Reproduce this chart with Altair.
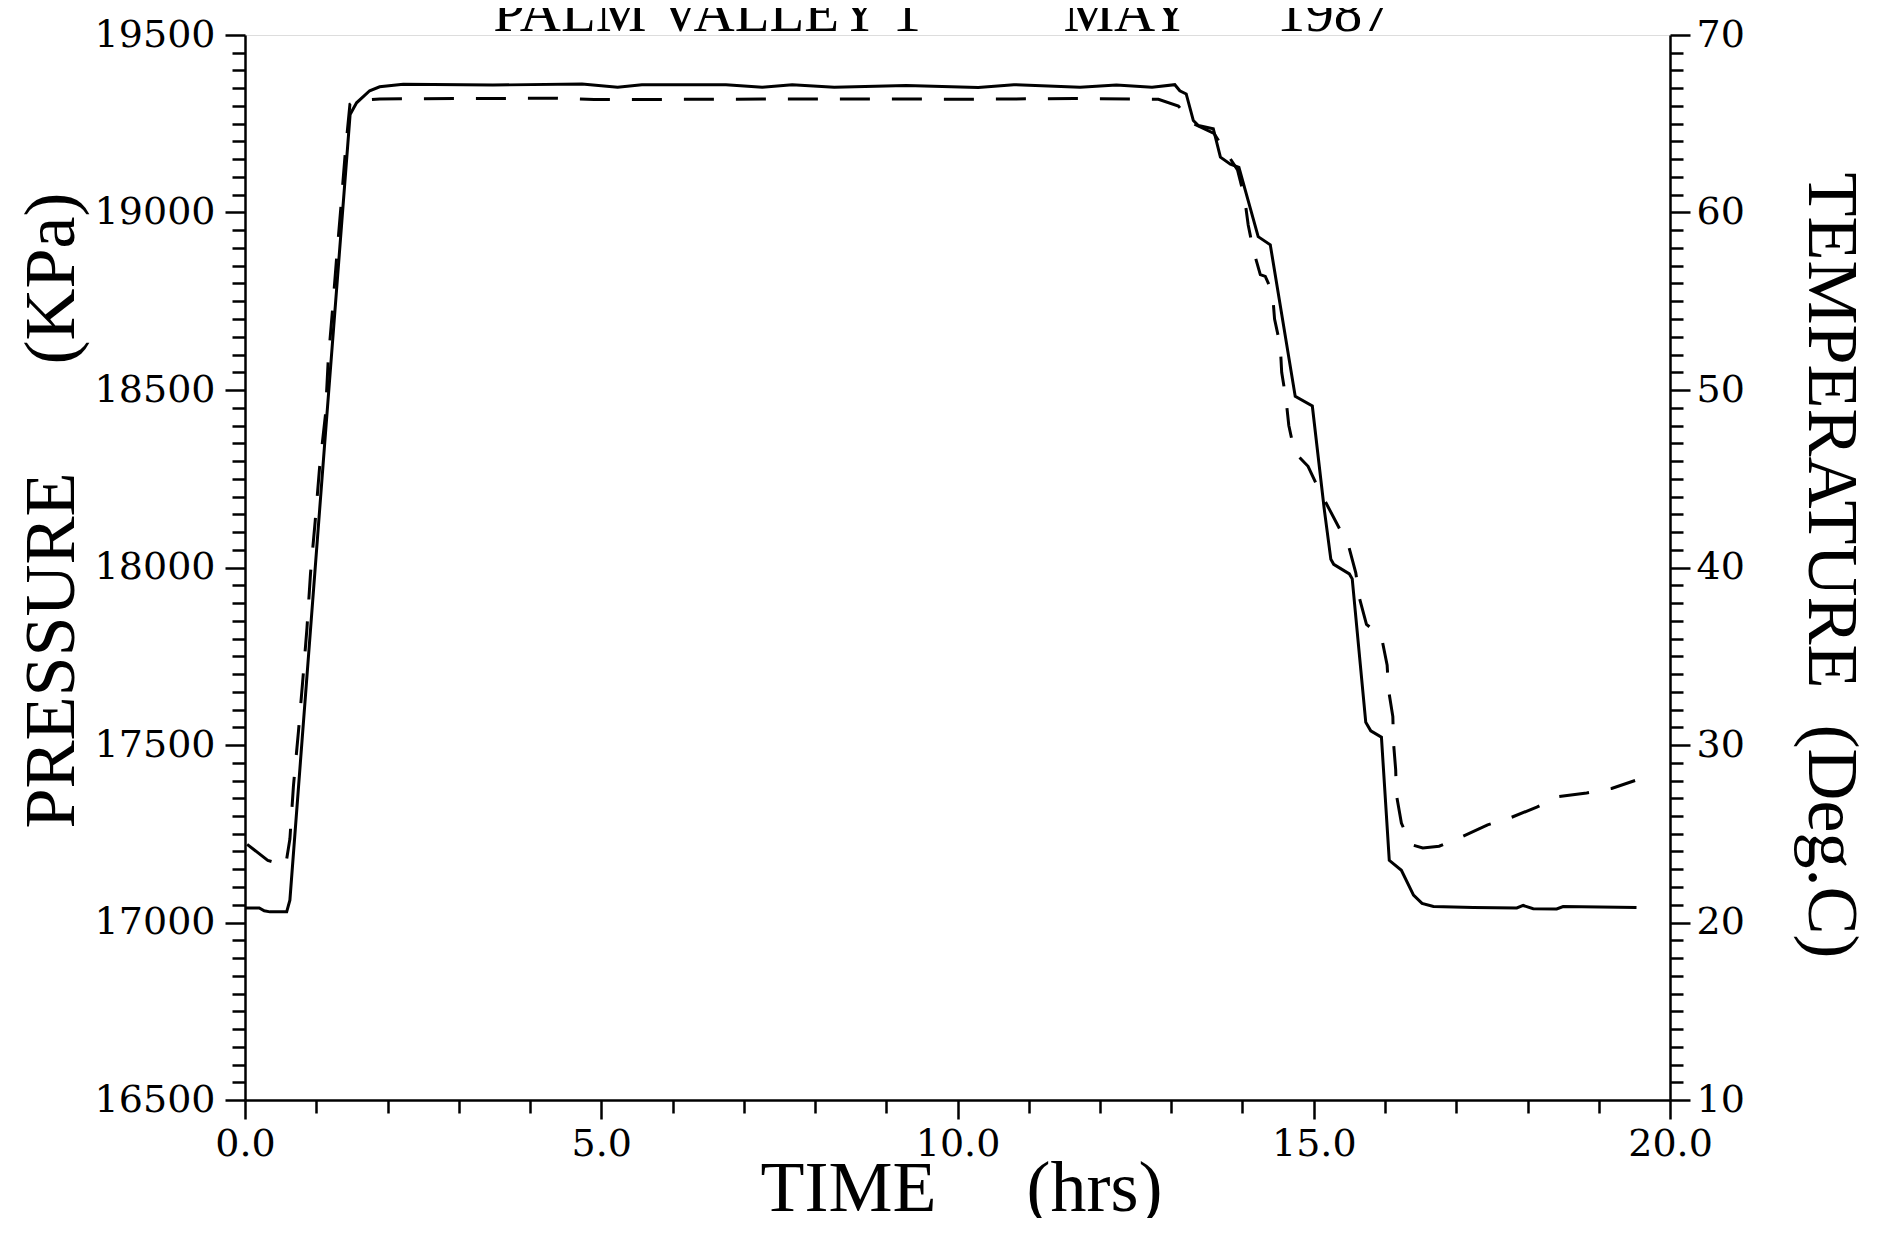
import altair as alt
import pandas as pd

# ---- data (time in hours) ----
time_p = [0.00, 0.20, 0.27, 0.35, 0.585, 0.63, 1.113, 1.475, 1.566, 1.75, 1.89, 2.22,
          3.48, 4.73, 5.23, 5.57, 6.75, 7.26, 7.68, 8.27, 9.28, 10.29, 10.79, 11.72,
          12.23, 12.73, 13.05, 13.12, 13.21, 13.31, 13.38, 13.59, 13.69, 13.83, 13.95,
          14.22, 14.39, 14.74, 14.98, 15.15, 15.24, 15.28, 15.50, 15.54, 15.73, 15.80,
          15.95, 16.06, 16.23, 16.40, 16.52, 16.68, 17.24, 17.85, 17.94, 18.08, 18.41,
          18.50, 19.53]
pressure = [17041, 17041, 17033, 17030, 17030, 17063, 18335, 19276, 19309, 19343, 19354, 19361,
            19359, 19362, 19353, 19360, 19360, 19353, 19360, 19353, 19358, 19352, 19360, 19353,
            19359, 19353, 19360, 19343, 19334, 19259, 19245, 19236, 19156, 19136, 19127,
            18932, 18909, 18482, 18455, 18160, 18023, 18009, 17982, 17968, 17564, 17540,
            17522, 17175, 17147, 17077, 17054, 17045, 17042, 17041, 17048, 17039, 17038,
            17045, 17042]

time_t = [0.03, 0.32, 0.57, 0.63, 0.68, 0.75, 0.81, 0.87, 0.92, 0.985, 1.046, 1.129,
          1.167, 1.228, 1.289, 1.35, 1.411, 1.473, 1.565, 1.89, 4.39, 4.90, 7.26, 8.61,
          10.12, 11.64, 12.82, 13.10, 13.31, 13.60, 13.93, 14.03, 14.08, 14.15, 14.25,
          14.32, 14.42, 14.45, 14.53, 14.55, 14.61, 14.65, 14.73, 14.92, 15.06, 15.49,
          15.59, 15.64, 15.74, 15.95, 16.03, 16.05, 16.11, 16.12, 16.15, 16.16, 16.23,
          16.36, 16.53, 16.76, 17.06, 17.44, 17.76, 18.13, 18.44, 18.83, 19.18, 19.51]
temperature = [24.4, 23.5, 23.2, 24.7, 27.7, 30.75, 33.6, 36.6, 39.7, 42.6, 45.6, 48.6,
               51.6, 54.5, 57.6, 60.5, 63.55, 66.1, 66.3, 66.4, 66.44, 66.36, 66.39, 66.40,
               66.38, 66.42, 66.38, 66.0, 65.0, 64.45, 62.4, 60.8, 59.3, 57.9, 56.5,
               56.4, 55.5, 54.0, 52.5, 51.0, 49.5, 48.0, 46.5, 45.7, 44.5, 41.2,
               39.7, 38.3, 36.8, 36.1, 34.5, 33.1, 31.6, 30.1, 28.6, 27.2, 25.6,
               24.4, 24.2, 24.3, 24.8, 25.5, 25.9, 26.5, 27.1, 27.3, 27.55, 28.0]

x_ticks = list(range(0, 21))
p_ticks = list(range(16500, 19501, 50))
t_ticks = list(range(10, 71))

title_text = ["PALM VALLEY 1" + "\u00a0" * 10 + "MAY" + "\u00a0" * 6 + "1987"]
x_title = "TIME" + "\u00a0" * 5 + "(hrs)"
p_title = "PRESSURE" + "\u00a0" * 6 + "(KPa)"
t_title = "TEMPERATURE" + "\u00a0" * 2 + "(Deg.C)"

p_df = pd.DataFrame({"time": time_p, "pressure": pressure})
t_df = pd.DataFrame({"time": time_t, "temperature": temperature})
title_df = pd.DataFrame({"label": title_text})

NUM_FONT = "DejaVu Serif"
TXT_FONT = "Liberation Serif"

common_axis = dict(
    grid=False, domainColor="black", domainWidth=2.5, tickColor="black", tickWidth=2.5,
    labelColor="black", labelFont=NUM_FONT, labelFontSize=38, labelOverlap=False,
    titleColor="black", titleFont=TXT_FONT, titleFontSize=72, titleFontWeight="normal",
    titleAlign="center", titleBaseline="alphabetic",
)

x_axis = alt.Axis(
    values=x_ticks,
    labelExpr="datum.value % 5 === 0 ? format(datum.value, '.1f') : ''",
    tickSize={"condition": {"test": "datum.value % 5 === 0", "value": 19}, "value": 13},
    labelPadding=6, labelFlush=False,
    title=x_title, titleX=716, titleY=110, titleAngle=0,
    **common_axis,
)
x_enc = alt.X("time:Q", scale=alt.Scale(domain=[0, 20], nice=False, zero=False), axis=x_axis)

p_axis = alt.Axis(
    orient="left", values=p_ticks,
    labelExpr="datum.value % 500 === 0 ? format(datum.value, 'd') : ''",
    tickSize={"condition": {"test": "datum.value % 500 === 0", "value": 20}, "value": 13},
    labelPadding=10,
    title=p_title, titleX=-172, titleY=475, titleAngle=270,
    **common_axis,
)
t_axis = alt.Axis(
    orient="right", values=t_ticks,
    labelExpr="datum.value % 10 === 0 ? format(datum.value, 'd') : ''",
    tickSize={"condition": {"test": "datum.value % 10 === 0", "value": 20}, "value": 13},
    labelPadding=6,
    title=t_title, titleX=138, titleY=530, titleAngle=90,
    **common_axis,
)

p_line = alt.Chart(p_df).mark_line(color="black", strokeWidth=3).encode(
    x=x_enc,
    y=alt.Y("pressure:Q", scale=alt.Scale(domain=[16500, 19500], nice=False, zero=False), axis=p_axis),
)
t_line = alt.Chart(t_df).mark_line(color="black", strokeWidth=3, strokeDash=[30, 22]).encode(
    x=x_enc,
    y=alt.Y("temperature:Q", scale=alt.Scale(domain=[10, 70], nice=False, zero=False), axis=t_axis),
)
# chart heading, partly cut off at the top edge as in the scanned original
heading = alt.Chart(title_df).mark_text(
    font=TXT_FONT, fontSize=57, color="black", align="center", baseline="alphabetic",
).encode(text="label:N", x=alt.value(697), y=alt.value(-4))

chart = (
    alt.layer(p_line, t_line, heading)
    .resolve_scale(y="independent")
    .properties(
        width=1425, height=1065,
        padding={"left": 237, "top": 27, "right": 206, "bottom": 118},
        autosize=alt.AutoSizeParams(type="none"),
    )
    .configure_view(stroke=None)
    .configure(background="white")
)

chart.save("out.html", embed_options={"renderer": "svg", "actions": False})
